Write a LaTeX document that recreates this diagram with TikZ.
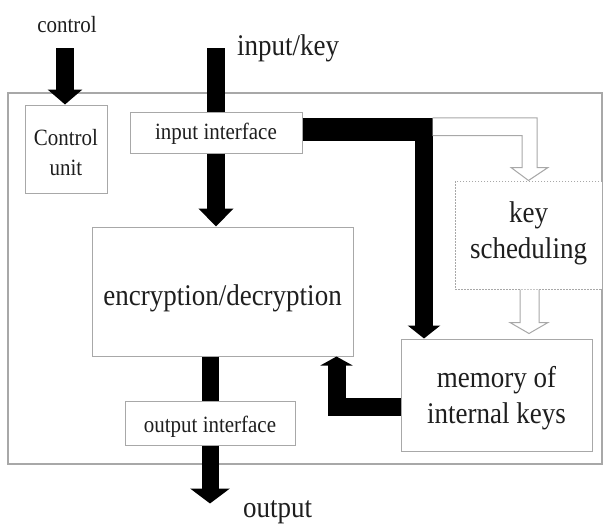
\documentclass[tikz,border=0pt]{standalone}
\usepackage{fontspec}
\setmainfont[FakeStretch=0.9]{Liberation Serif}
\usetikzlibrary{arrows.meta,calc}

\definecolor{boxline}{HTML}{A8A8A8}
\definecolor{ink}{HTML}{1E1E1E}

\tikzset{
  unitbox/.style={draw=boxline, line width=1pt, fill=white, align=center,
    text=ink, inner sep=0pt},
  bigtext/.style={font=\fontsize{30}{36}\selectfont},
  smalltext/.style={font=\fontsize{23.3}{30}\selectfont},
  bar/.style={draw=black, line width=18pt},
  hollow/.style={draw=boxline, line width=1pt, fill=white, line join=miter},
}

\begin{document}
\begin{tikzpicture}[x=1pt, y=-1pt]
  \useasboundingbox (0,0) rectangle (604,525);
  \fill[white] (0,0) rectangle (604,525);

  % enclosing frame of the cipher core
  \draw[boxline, line width=1.2pt] (8,93) rectangle (602,464);

  % functional blocks (text height/depth place the last baseline)
  \node[unitbox, smalltext, minimum width=82pt, minimum height=88pt,
    text height=52pt, text depth=0pt]
    (cu) at (66,149) {Control\\unit};
  \node[unitbox, smalltext, minimum width=172pt, minimum height=41pt,
    text height=13pt, text depth=0pt]
    (ii) at (216,132.5) {input interface};
  \node[unitbox, bigtext, minimum width=261pt, minimum height=129pt,
    text height=27pt, text depth=0pt]
    (enc) at (222.5,291.5) {encryption/decryption};
  \node[unitbox, bigtext, dashed, dash pattern=on 1.5pt off 1.5pt,
    minimum width=147pt, minimum height=108pt,
    text height=46pt, text depth=0pt]
    (key) at (528.5,235) {key\\scheduling};
  \node[unitbox, bigtext, minimum width=191pt, minimum height=112pt,
    text height=56pt, text depth=0pt]
    (mem) at (496.5,395) {memory of\\internal keys};
  \node[unitbox, smalltext, minimum width=170pt, minimum height=44pt,
    text height=18pt, text depth=0pt]
    (oi) at (210,423) {output interface};

  % external signal labels
  \node[smalltext, text=ink, inner sep=0pt, anchor=base] (lctrl) at (67,32) {control};
  \node[bigtext, text=ink, inner sep=0pt, anchor=base west] (lin) at (237,55) {input/key};
  \node[bigtext, text=ink, inner sep=0pt, anchor=base west] (lout) at (243,517) {output};

  % free ends of the signal arrows
  \coordinate (ctop) at (65,48);
  \coordinate (ktop) at (216,48);
  \coordinate (kcorner) at (432.7,129.5);
  \coordinate (kdown) at (424,118.3);

  % control and input/key feeds
  \draw[bar, -{Triangle[width=34pt,length=15pt]}] (ctop) -- (ctop |- cu.north);
  \draw[bar] (ktop) -- (ii.north);
  \draw[bar, -{Triangle[width=34pt,length=18pt]}] (ii.south) -- (ii.south |- enc.north);

  % key path towards the key memory
  \draw[draw=black, line width=22.4pt] ([yshift=3pt]ii.east) -- (kcorner);
  \draw[bar, line width=17.7pt, -{Triangle[width=32pt,length=13pt]}]
    (kdown) -- (kdown |- mem.north);

  % optional key scheduling branch (hollow arrows)
  \draw[hollow] (key.north) ++(-95.8,-45) -- ++(89.3,0) -- ++(0,32) -- ++(-11,0)
    -- (key.north) -- ++(19.5,-13) -- ++(-11,0) -- ++(0,-49.7) -- ++(-104.3,0);
  \draw[hollow] (key.south) ++(-8.5,0) -- ++(0,33) -- ++(-10,0) -- ++(19,11)
    -- ++(19,-11) -- ++(-9,0) -- ++(0,-33);

  % round keys fed back to the cipher
  \draw[bar, -{Triangle[width=32pt,length=9pt]}]
    ([yshift=-11.5pt]mem.west) -| ([xshift=114pt]enc.south);

  % output path
  \draw[bar, line width=17pt] (enc.south -| oi.north) -- (oi.north);
  \draw[bar, line width=17pt, -{Triangle[width=39pt,length=15pt]}]
    (oi.south) -- ++(0,58);
\end{tikzpicture}
\end{document}
